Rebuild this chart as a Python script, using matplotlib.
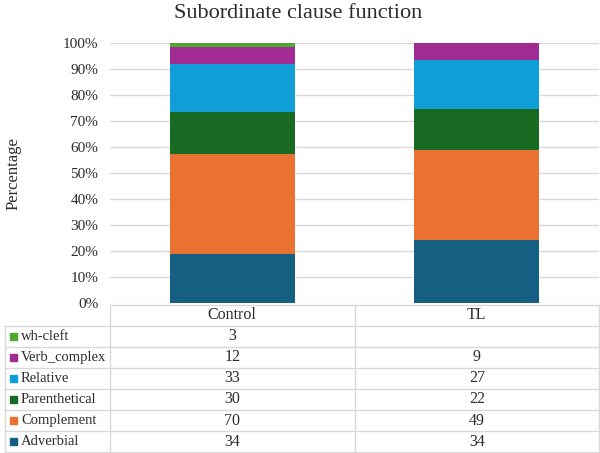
import numpy as np
import matplotlib.pyplot as plt
from matplotlib.patches import Rectangle
from matplotlib.ticker import PercentFormatter

plt.rcParams['font.family'] = ['Liberation Serif', 'DejaVu Serif']

groups = ['Control', 'TL']
series = ['Adverbial', 'Complement', 'Parenthetical', 'Relative', 'Verb_complex', 'wh-cleft']
adverbial = [34, 34]
complement = [70, 49]
parenthetical = [30, 22]
relative = [33, 27]
verb_complex = [12, 9]
wh_cleft = [3, None]
colors = ['#156082', '#E97132', '#196B24', '#0F9ED5', '#A02B93', '#4EA72E']

counts = [adverbial, complement, parenthetical, relative, verb_complex, wh_cleft]
vals = np.array([[0 if v is None else v for v in row] for row in counts], dtype=float)
pct = vals / vals.sum(axis=0) * 100

W, H = 600, 453
txt_c = '#2b2b2b'
fig = plt.figure(figsize=(6, 4.53), dpi=100)
ax = fig.add_axes([110 / W, 1 - 303 / H, 489 / W, 260 / H])

x = np.arange(len(groups))
bottom = np.zeros(len(groups))
for name, p, c in zip(series, pct, colors):
    ax.bar(x, p, width=0.51, bottom=bottom, color=c, label=name, zorder=3)
    bottom += p

ax.set_xlim(-0.5, len(groups) - 0.5)
ax.set_ylim(0, 100)
ax.set_yticks(np.arange(0, 101, 10))
ax.yaxis.set_major_formatter(PercentFormatter(decimals=0))
ax.set_xticks([])
ax.grid(axis='y', color='#D9D9D9', lw=1, zorder=0)
for s in ax.spines.values():
    s.set_visible(False)
ax.tick_params(axis='y', length=0, labelsize=11, colors=txt_c, pad=8.5)
fig.text(0.497, 1 - 13.5 / H, 'Subordinate clause function', ha='center', va='center',
         fontsize=16, color=txt_c)
fig.text(14 / W, 1 - 174 / H, 'Percentage', rotation=90, ha='center', va='center',
         fontsize=12, color=txt_c)

# data table
tab = fig.add_axes([0, 0, 1, 1])
tab.set_xlim(0, W)
tab.set_ylim(H, 0)
tab.axis('off')
line_c = '#D9D9D9'
top, rh = 304.5, 21.1
left, split, right = 5, 110, 599
colw = (right - split) / len(groups)
nrows = len(series) + 1
bot = top + rh * nrows
tab.plot([split, right], [top, top], color=line_c, lw=1)
for i in range(1, nrows + 1):
    y = top + rh * i
    tab.plot([left, right], [y, y], color=line_c, lw=1)
tab.plot([left, left], [top + rh, bot], color=line_c, lw=1)
for j in range(len(groups) + 1):
    xx = split + colw * j
    tab.plot([xx, xx], [top, bot], color=line_c, lw=1)
for j, g in enumerate(groups):
    tab.text(split + colw * (j + 0.5), top + rh / 2, g, ha='center', va='center',
             fontsize=11.5, color=txt_c)
for i, k in enumerate(range(len(series) - 1, -1, -1)):
    yc = top + rh * (i + 1.5)
    tab.add_patch(Rectangle((10, yc - 3.5), 7, 7, color=colors[k]))
    tab.text(21, yc, series[k], ha='left', va='center', fontsize=10.5, color=txt_c)
    for j in range(len(groups)):
        v = counts[k][j]
        if v is not None:
            tab.text(split + colw * (j + 0.5), yc, str(v), ha='center', va='center',
                     fontsize=11.5, color=txt_c)

fig.savefig('out.png', dpi=100)
